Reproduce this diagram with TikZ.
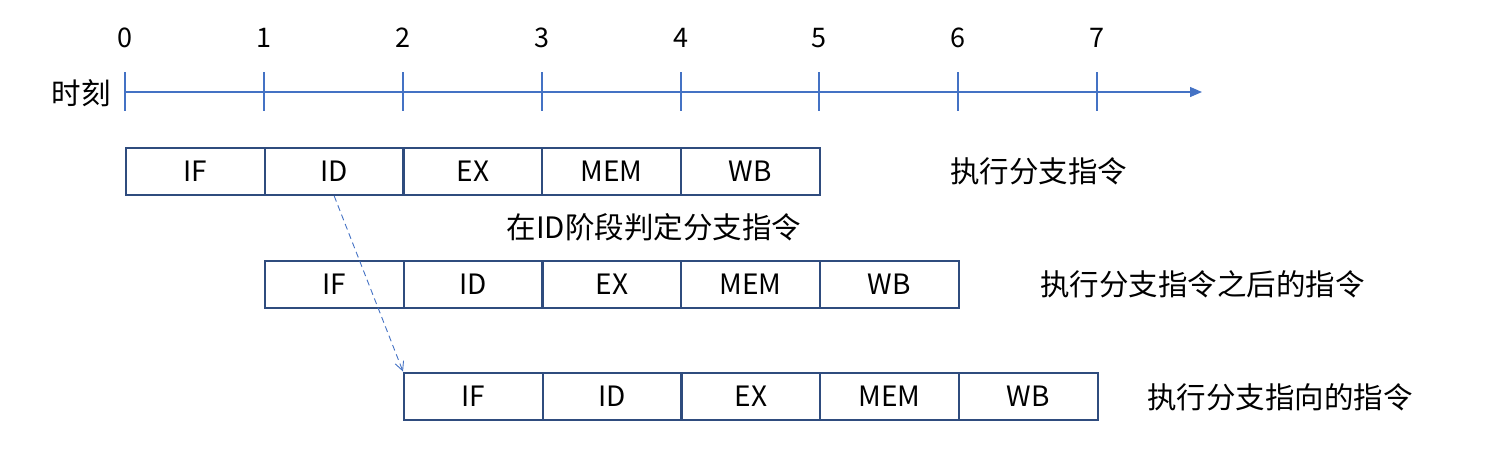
\documentclass[tikz,border=0pt]{standalone}
\usepackage{fontspec}
\setmainfont{Noto Sans CJK SC}
\usetikzlibrary{arrows.meta}
\definecolor{boxc}{HTML}{2F4C7E}
\definecolor{axc}{HTML}{4472C4}
\tikzset{
  stagebox/.style={draw=boxc, line width=2pt, minimum width=139pt, minimum height=47pt, inner sep=0pt, font=\fontsize{28}{32}\selectfont},
  lbl/.style={font=\fontsize{29.5}{34}\selectfont, inner sep=0pt},
  ticklbl/.style={font=\fontsize{27}{30}\selectfont, inner sep=0pt},
}
\begin{document}
\begin{tikzpicture}[x=1pt,y=-1pt]
\useasboundingbox (0,0) rectangle (1488,451);
% axis
\coordinate (ax0) at (125,92);
\coordinate (axend) at (1202,92);
\draw[axc, line width=1.3pt, -{Triangle[length=12pt,width=10pt]}] (ax0) -- (axend);
\node[lbl, anchor=center] (tlabel) at (81,93) {时刻};
\foreach \i/\x in {0/125,1/264,2/403,3/542,4/681,5/819,6/958,7/1097}{
  \coordinate (tk\i a) at (\x,72);
  \coordinate (tk\i b) at (\x,111);
  \draw[axc, line width=1.3pt] (tk\i a) -- (tk\i b);
  \node[ticklbl] (n\i) at (\x,38) {\i};
}
% rows
\foreach \r/\y/\x in {1/171.5/125,2/284.5/264,3/396/403}{
  \foreach \s [count=\c from 0] in {IF,ID,EX,MEM,WB}{
    \node[stagebox, anchor=west] (r\r c\c) at ({\x+139*\c-0.3*\c},\y) {\s};
  }
}
\node[lbl, anchor=west] (l1) at (950,171) {执行分支指令};
\node[lbl, anchor=west] (l2) at (1040,284) {执行分支指令之后的指令};
\node[lbl, anchor=west] (l3) at (1147,397) {执行分支指向的指令};
\node[lbl] (l4) at (654,227) {在ID阶段判定分支指令};
% dashed arrow
\draw[axc, line width=0.9pt, dashed, dash pattern=on 6pt off 4pt, -{Straight Barb[length=9pt,width=9pt]}] (r1c1.south) -- (r3c0.north west);
\end{tikzpicture}
\end{document}
